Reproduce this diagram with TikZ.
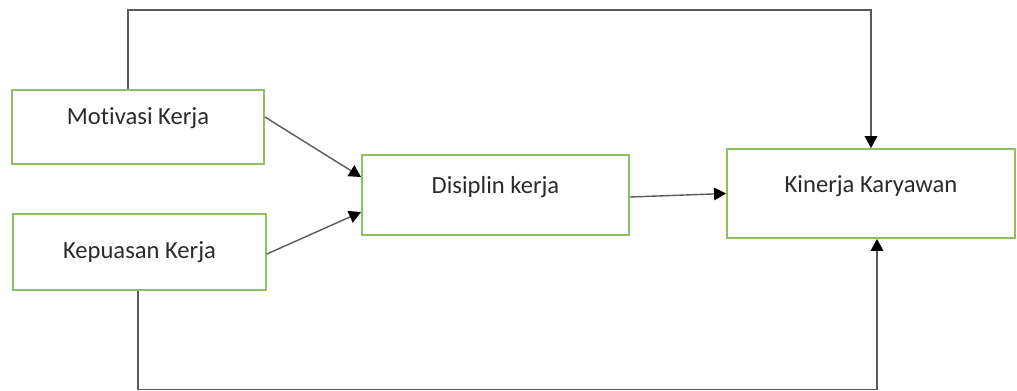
\documentclass[tikz,border=0pt]{standalone}
\usepackage{fontspec}
\setmainfont[Ligatures=NoCommon]{Carlito}
\usetikzlibrary{arrows.meta}
\definecolor{boxgreen}{HTML}{8CC063}
\definecolor{linegray}{HTML}{5A5A5A}
\definecolor{txt}{HTML}{2B2B2B}

\begin{document}
\begin{tikzpicture}[x=0.03cm, y=-0.03cm,
  box/.style={draw=boxgreen, line width=1.6pt, fill=white, text=txt, inner sep=0pt, font=\fontsize{21}{25}\selectfont},
  link/.style={draw=linegray, line width=1.2pt, -{Triangle[length=0.36cm, width=0.38cm, color=black]}}]%
\useasboundingbox (0,0) rectangle (1017,390);%
% variabel
\node[box, minimum width=7.56cm, minimum height=2.22cm, text depth=18pt] (mot) at (138,127) {Motivasi Kerja};%
\node[box, minimum width=7.59cm, minimum height=2.28cm] (kep) at (139.5,252) {Kepuasan Kerja};%
\node[box, minimum width=8.01cm, minimum height=2.40cm, text depth=18pt] (dis) at (495.5,195) {Disiplin kerja};%
\node[box, minimum width=8.64cm, minimum height=2.67cm, text depth=16pt] (kin) at (871,193.5) {Kinerja Karyawan};%
% jalur langsung
\coordinate (atas) at (128,10);%
\coordinate (bawah) at (138,389.6);%
\draw[link] (atas |- mot.north) -- (atas) -| (kin.north);%
\draw[link] (bawah |- kep.south) -- (bawah) -| ([xshift=0.18cm]kin.south);%
% jalur lewat disiplin
\draw[link] ([yshift=0.3cm]mot.east) -- ([yshift=0.54cm]dis.west);%
\draw[link] ([yshift=-0.06cm]kep.east) -- ([yshift=-0.51cm]dis.west);%
\draw[link] ([yshift=-0.06cm]dis.east) -- (kin.west);%
\end{tikzpicture}
\end{document}
